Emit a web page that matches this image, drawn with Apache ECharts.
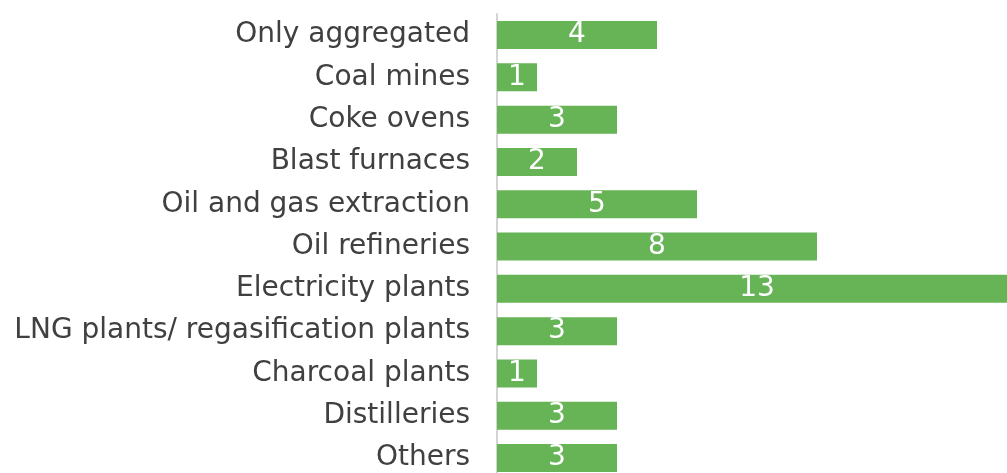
<!DOCTYPE html>
<html>
<head>
<meta charset="utf-8">
<script src="https://cdn.jsdelivr.net/npm/echarts@6/dist/echarts.min.js"></script>
<style>
  html, body { margin: 0; padding: 0; background: #ffffff; overflow: hidden; }
  /* The canvas runs past the window so the longest bar continues off the right edge */
  #chart { width: 1040px; height: 490px; }
</style>
</head>
<body>
<div id="chart"></div>
<script>
// Plant types, listed top to bottom
const categories = [
  'Only aggregated',
  'Coal mines',
  'Coke ovens',
  'Blast furnaces',
  'Oil and gas extraction',
  'Oil refineries',
  'Electricity plants',
  'LNG plants/ regasification plants',
  'Charcoal plants',
  'Distilleries',
  'Others'
];
// Count per plant type
const counts = [4, 1, 3, 2, 5, 8, 13, 3, 1, 3, 3];

const chart = echarts.init(document.getElementById('chart'), null, { renderer: 'canvas' });

chart.setOption({
  animation: false,
  grid: { left: 497, top: 13.9, width: 520, height: 465.3, containLabel: false },
  xAxis: {
    type: 'value',
    min: 0,
    max: 13,
    show: false
  },
  yAxis: {
    type: 'category',
    data: categories,
    inverse: true,
    axisLine: { show: true, lineStyle: { color: '#d4d4d4', width: 2 } },
    axisTick: { show: false },
    splitLine: { show: false },
    axisLabel: {
      margin: 27,
      color: '#404040',
      fontFamily: 'DejaVu Sans',
      fontSize: 28
    }
  },
  series: [{
    type: 'bar',
    data: counts,
    barWidth: 28,
    itemStyle: { color: '#66b456' },
    label: {
      show: true,
      position: 'inside',
      color: '#ffffff',
      fontFamily: 'DejaVu Sans',
      fontSize: 28
    }
  }]
});
</script>
</body>
</html>
